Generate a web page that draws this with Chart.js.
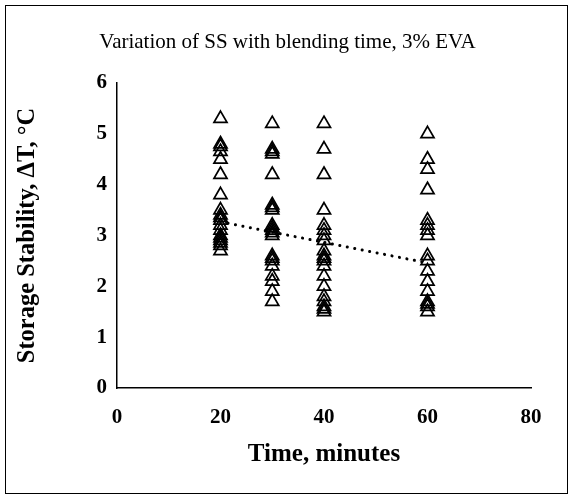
<!DOCTYPE html>
<html>
<head>
<meta charset="utf-8">
<script src="https://cdn.jsdelivr.net/npm/chart.js@4.4.1/dist/chart.umd.min.js"></script>
<style>
  html, body { margin: 0; padding: 0; background: #ffffff; }
  #wrap { position: relative; width: 575px; height: 499px; }
  #frame { position: absolute; left: 5px; top: 5px; width: 563px; height: 489px; border: 1px solid #000; box-sizing: border-box; pointer-events: none; }
  canvas { position: absolute; left: 0; top: 0; }
</style>
</head>
<body>
<div id="wrap">
  <canvas id="c" width="575" height="499"></canvas>
  <div id="frame"></div>
</div>
<script>
// Data
const times = [20, 30, 40, 60];
const ss20 = [5.3, 4.8, 4.75, 4.65, 4.5, 4.2, 3.8, 3.5, 3.4, 3.35, 3.3, 3.2, 3.1, 3.0, 2.95, 2.9, 2.85, 2.8, 2.7];
const ss30 = [5.2, 4.7, 4.65, 4.6, 4.2, 3.6, 3.55, 3.5, 3.2, 3.15, 3.1, 3.05, 3.0, 2.6, 2.55, 2.5, 2.4, 2.2, 2.1, 1.9, 1.7];
const ss40 = [5.2, 4.7, 4.2, 3.5, 3.2, 3.1, 3.0, 2.9, 2.7, 2.6, 2.55, 2.5, 2.4, 2.2, 2.0, 1.8, 1.7, 1.6, 1.55, 1.5];
const ss60 = [5.0, 4.5, 4.3, 3.9, 3.3, 3.2, 3.1, 3.0, 2.6, 2.5, 2.3, 2.1, 1.9, 1.7, 1.65, 1.6, 1.5];
const trendX = [20, 60];
const trendY = [3.27, 2.46];
const xTicks = [0, 20, 40, 60, 80];
const yTicks = [0, 1, 2, 3, 4, 5, 6];

const columns = [ss20, ss30, ss40, ss60];
const points = [];
columns.forEach((col, i) => col.forEach(v => points.push({ x: times[i], y: v })));
const trendPoints = trendX.map((x, i) => ({ x: x, y: trendY[i] }));

const serif = "'Liberation Serif', 'Times New Roman', serif";

new Chart(document.getElementById('c'), {
  type: 'scatter',
  data: {
    datasets: [
      {
        label: 'SS',
        data: points,
        pointStyle: 'triangle',
        pointRadius: 7.5,
        pointHoverRadius: 7.5,
        borderColor: '#000000',
        backgroundColor: 'rgba(255,255,255,0)',
        borderWidth: 1.75
      },
      {
        label: 'Trend',
        type: 'line',
        data: trendPoints,
        borderColor: '#000000',
        borderWidth: 3,
        borderDash: [0.1, 7.5],
        borderCapStyle: 'round',
        pointRadius: 0,
        fill: false
      }
    ]
  },
  options: {
    responsive: false,
    animation: false,
    layout: { padding: 0 },
    plugins: {
      legend: { display: false },
      tooltip: { enabled: false },
      title: {
        display: true,
        text: 'Variation of SS with blending time, 3% EVA',
        color: '#000',
        font: { family: serif, size: 21, weight: 'normal', lineHeight: 1.2 },
        padding: { top: 29.4, bottom: 28.4 }
      }
    },
    scales: {
      x: {
        type: 'linear',
        min: 0,
        max: 80,
        afterBuildTicks: s => { s.ticks = xTicks.map(v => ({ value: v })); },
        afterFit: s => { s.height = 111; },
        grid: { display: false, drawTicks: false },
        border: { display: true, color: '#000', width: 1.5 },
        ticks: { color: '#000', padding: 17, font: { family: serif, size: 21, weight: 'bold' } },
        title: {
          display: true,
          text: 'Time, minutes',
          color: '#000',
          font: { family: serif, size: 25, weight: 'bold', lineHeight: 1.2 },
          padding: { top: 0, bottom: 29 }
        }
      },
      y: {
        type: 'linear',
        min: 0,
        max: 6,
        afterBuildTicks: s => { s.ticks = yTicks.map(v => ({ value: v })); },
        afterFit: s => { s.width = 117; },
        grid: { display: false, drawTicks: false },
        border: { display: true, color: '#000', width: 1.5 },
        ticks: { color: '#000', padding: 10, font: { family: serif, size: 21, weight: 'bold' } },
        title: {
          display: true,
          text: 'Storage Stability, ΔT, °C',
          color: '#000',
          font: { family: serif, size: 24.5, weight: 'bold', lineHeight: 1.2 },
          padding: { top: 13, bottom: 0 }
        }
      },
      yRight: {
        type: 'linear',
        position: 'right',
        min: 0,
        max: 6,
        display: true,
        afterFit: s => { s.width = 44; },
        grid: { display: false, drawTicks: false },
        border: { display: false },
        ticks: { display: false }
      }
    }
  }
});
</script>
</body>
</html>
